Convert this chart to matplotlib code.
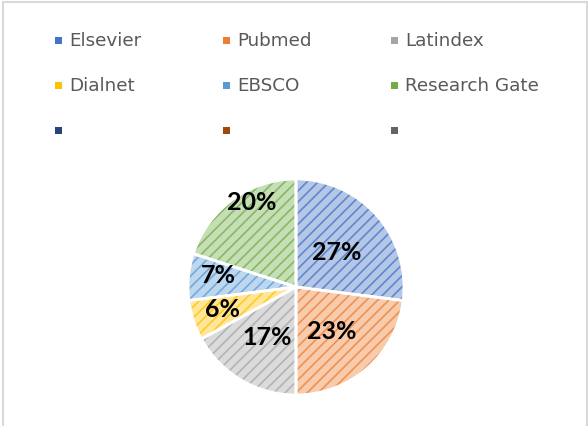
import matplotlib
matplotlib.use('Agg')
import matplotlib.pyplot as plt
from matplotlib.patches import Rectangle
import numpy as np

labels = ['Elsevier', 'Pubmed', 'Latindex', 'Dialnet', 'EBSCO', 'Research Gate', '', '', '']
values = [27, 23, 17, 6, 7, 20, 0, 0, 0]
colors = ['#4472C4', '#ED7D31', '#A5A5A5', '#FFC000', '#5B9BD5', '#70AD47',
          '#264478', '#9E480E', '#636363']

# label placement tweaks (fraction of radius, angle shift in degrees)
lab_r = [0.5, 0.52, 0.53, 0.71, 0.73, 0.89]
lab_da = [0, -1.5, 0, -2, -4, -8.6]

W, H = 588, 427
fig = plt.figure(figsize=(W / 100, H / 100), dpi=100)
plt.rcParams['hatch.linewidth'] = 1.2


def tint(c, f=0.6):
    rgb = np.array(matplotlib.colors.to_rgb(c))
    return tuple(rgb + (1 - rgb) * f)


# chart border
fig.patches.append(Rectangle((3 / W, -0.1), (587 - 3) / W, 1.1 - 3.5 / H,
                             transform=fig.transFigure, fill=False,
                             edgecolor='#D9D9D9', linewidth=1.5))

cx, cy, r = 296, 288, 108
ax = fig.add_axes([(cx - r) / W, (H - cy - r) / H, 2 * r / W, 2 * r / H])

vals = values[:6]
wedges, _ = ax.pie(vals, colors=[tint(c) for c in colors[:6]], startangle=90,
                   counterclock=False, radius=1,
                   wedgeprops=dict(linewidth=0))
for w, c in zip(wedges, colors):
    w.set_hatch('///')
    w.set_edgecolor(tint(c, 0.15))
    w.set_linewidth(0)
# white separators
ax.pie(vals, colors=['none'] * 6, startangle=90, counterclock=False, radius=1,
       wedgeprops=dict(linewidth=2, edgecolor='white', fill=False))

total = sum(vals)
start = 90.0
for i, v in enumerate(vals):
    span = 360.0 * v / total
    mid = np.deg2rad(start - span / 2 + lab_da[i])
    ax.text(lab_r[i] * np.cos(mid), lab_r[i] * np.sin(mid), '%d%%' % round(100 * v / total),
            ha='center', va='center', fontsize=18, fontweight='bold',
            family=['Lato', 'DejaVu Sans'], color='black')
    start -= span

ax.set_xlim(-1, 1)
ax.set_ylim(-1, 1)
ax.set_aspect('equal')
ax.axis('off')

# legend, 3 columns
col_x = [58, 226, 394]
row_y = [41, 86, 131]
ms = 7
for i, (lab, c) in enumerate(zip(labels, colors)):
    x = col_x[i % 3]
    y = row_y[i // 3]
    fig.patches.append(Rectangle(((x - ms / 2) / W, (H - y - ms / 2) / H), ms / W, ms / H,
                                 transform=fig.transFigure, facecolor=c,
                                 edgecolor='none'))
    if lab:
        fig.text((x + 11) / W, (H - y) / H, lab, ha='left', va='center',
                 fontsize=13.2, color='#595959', family='DejaVu Sans')

fig.savefig('out.png', dpi=100)
